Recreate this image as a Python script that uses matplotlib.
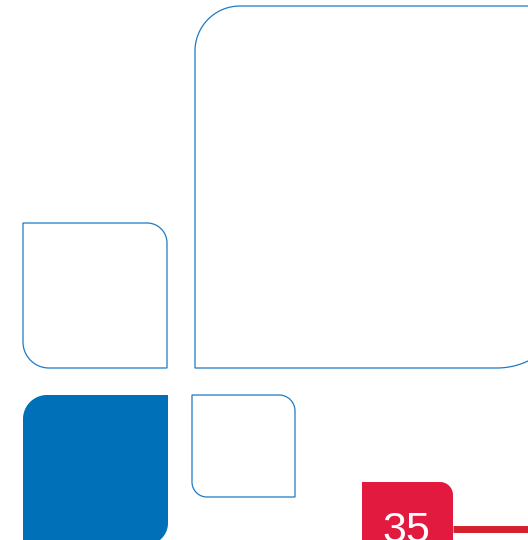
import numpy as np
import matplotlib.pyplot as plt
from matplotlib.patches import Polygon

W, H = 528, 540

# boxes: (x0, y0, x1, y1), corner radii (top-left, top-right, bottom-right, bottom-left)
big_box = (195, 6, 569, 368)
big_radii = (45, 0, 72, 0)
left_box = (23, 223, 167, 368)
left_radii = (0, 20, 0, 26)
blue_box = (23, 395, 168, 545)
blue_radii = (24, 0, 22, 0)
small_box = (192, 395, 295, 497)
small_radii = (0, 16, 0, 15)
red_box = (362, 482, 453, 560)
red_radii = (0, 13, 0, 0)
page_number = "35"

blue_line = '#1f7ac4'
blue_fill = '#0070b8'
red_fill = '#e31a40'
red_line = '#d4202a'


def rounded_rect(box, radii, n=30):
    x0, y0, x1, y1 = box
    tl, tr, br, bl = radii
    pts = []

    def corner(cx, cy, r, a0, a1):
        t = np.linspace(np.radians(a0), np.radians(a1), n)
        return list(zip(cx + r * np.cos(t), cy + r * np.sin(t)))

    # y axis points down, so angles go clockwise on screen
    pts += corner(x0 + tl, y0 + tl, tl, 180, 270) if tl else [(x0, y0)]
    pts += corner(x1 - tr, y0 + tr, tr, 270, 360) if tr else [(x1, y0)]
    pts += corner(x1 - br, y1 - br, br, 0, 90) if br else [(x1, y1)]
    pts += corner(x0 + bl, y1 - bl, bl, 90, 180) if bl else [(x0, y1)]
    return np.array(pts)


fig = plt.figure(figsize=(W / 100, H / 100), dpi=100)
ax = fig.add_axes([0, 0, 1, 1])
ax.set_xlim(0, W)
ax.set_ylim(H, 0)
ax.axis('off')

for box, radii in [(big_box, big_radii), (left_box, left_radii), (small_box, small_radii)]:
    ax.add_patch(Polygon(rounded_rect(box, radii), closed=True, fill=False,
                         edgecolor=blue_line, lw=0.9))

ax.add_patch(Polygon(rounded_rect(blue_box, blue_radii), closed=True,
                     facecolor=blue_fill, edgecolor='none'))
ax.add_patch(Polygon(rounded_rect(red_box, red_radii), closed=True,
                     facecolor=red_fill, edgecolor='none'))

# red rule running off to the right
ax.plot([red_box[2], W + 5], [529, 529], color=red_line, lw=5, solid_capstyle='butt')

# page number, cut by the bottom edge as in the original
ax.text(406, 542, page_number, color='white', fontsize=31, ha='center', va='baseline',
        family=['Liberation Sans', 'DejaVu Sans'], clip_on=True)

fig.savefig('out.png', dpi=100)
